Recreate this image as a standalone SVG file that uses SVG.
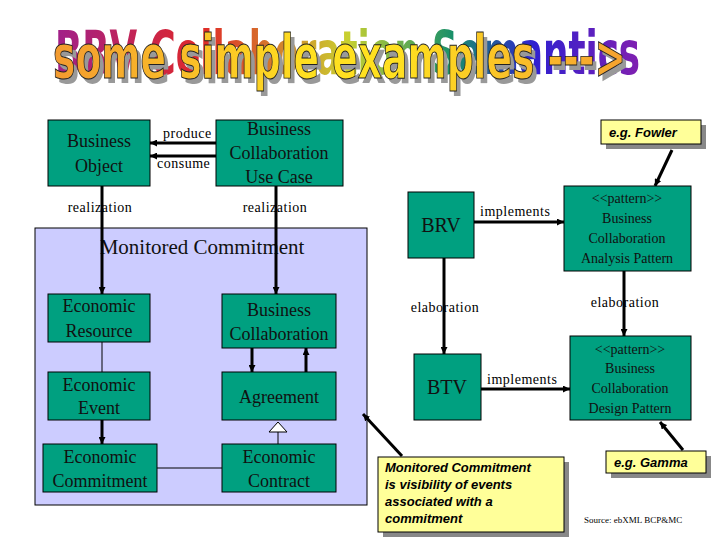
<svg xmlns="http://www.w3.org/2000/svg" width="720" height="540" viewBox="0 0 720 540">
<defs>
<linearGradient id="rain" x1="55" y1="0" x2="640" y2="0" gradientUnits="userSpaceOnUse">
<stop offset="0" stop-color="#a0208a"/>
<stop offset="0.25" stop-color="#e02828"/>
<stop offset="0.5" stop-color="#c8d030"/>
<stop offset="0.68" stop-color="#18906a"/>
<stop offset="0.82" stop-color="#3020d0"/>
<stop offset="1" stop-color="#8020b0"/>
</linearGradient>
<linearGradient id="gold" x1="53" y1="0" x2="628" y2="0" gradientUnits="userSpaceOnUse">
<stop offset="0" stop-color="#f39a30"/>
<stop offset="0.45" stop-color="#ffe020"/>
<stop offset="0.6" stop-color="#ffe020"/>
<stop offset="1" stop-color="#f5a030"/>
</linearGradient>
<marker id="ah" viewBox="0 0 10 10" refX="10" refY="5" markerWidth="7" markerHeight="7" markerUnits="userSpaceOnUse" orient="auto">
<path d="M0,0 L10,5 L0,10 z" fill="#000"/>
</marker>
</defs>
<style>
.box{fill:#00a080;stroke:#000;stroke-width:1}
.t{font-family:"Liberation Serif","Times New Roman",serif;fill:#111;text-anchor:middle}
.b18{font-size:18px}
.b14{font-size:14px}
.lab{font-family:"Liberation Serif","Times New Roman",serif;font-size:14px;fill:#000;letter-spacing:0.5px}
.note{fill:#ffff99;stroke:#000;stroke-width:1}
.sh{fill:#888}
.nt{font-family:"Liberation Sans",Arial,sans-serif;font-weight:bold;font-style:italic;font-size:13px;fill:#000}
.thick{stroke:#000;stroke-width:3;fill:none}
.thin{stroke:#000;stroke-width:1;fill:none}
.ttl{font-family:"DejaVu Sans Condensed","DejaVu Sans",sans-serif;font-weight:bold;font-size:50px}
</style>

<g id="title" transform="translate(0,78) scale(1,1.22) translate(0,-78)">
<text class="ttl" x="55" y="75" textLength="585" lengthAdjust="spacingAndGlyphs" fill="url(#rain)">BRV Collaboration Semantics</text>
<text class="ttl" x="57" y="82" textLength="573" lengthAdjust="spacingAndGlyphs" fill="#999">some simple examples ---&gt;</text>
<text class="ttl" x="53" y="78" textLength="573" lengthAdjust="spacingAndGlyphs" fill="url(#gold)" stroke="#222" stroke-width="0.8">some simple examples ---&gt;</text>
</g>

<g id="monitored-commitment">
<rect x="35" y="228" width="332" height="277" fill="#ccccff" stroke="#000" stroke-width="1"/>
<text class="t" x="202" y="254" font-family="Liberation Serif, serif" font-size="21">Monitored Commitment</text>
</g>

<g id="connectors">
<line class="thick" x1="216" y1="143" x2="150" y2="143" marker-end="url(#ah)"/>
<line class="thick" x1="216" y1="156" x2="150" y2="156" marker-end="url(#ah)"/>
<line class="thick" x1="102" y1="186" x2="102" y2="294" marker-end="url(#ah)"/>
<line class="thick" x1="276" y1="186" x2="276" y2="294" marker-end="url(#ah)"/>
<line class="thin" x1="102" y1="342" x2="102" y2="372"/>
<line class="thick" x1="102" y1="420" x2="102" y2="444" marker-end="url(#ah)"/>
<line class="thick" x1="252" y1="348" x2="252" y2="372" marker-end="url(#ah)"/>
<line class="thick" x1="306" y1="372" x2="306" y2="348" marker-end="url(#ah)"/>
<line class="thin" x1="278" y1="444" x2="278" y2="432"/>
<path d="M278,422 L287,432 L269,432 z" fill="#fff" stroke="#000" stroke-width="1"/>
<line class="thin" x1="157" y1="468" x2="222" y2="468"/>
<line class="thick" x1="474" y1="222" x2="564" y2="222" marker-end="url(#ah)"/>
<line class="thick" x1="444" y1="258" x2="444" y2="354" marker-end="url(#ah)"/>
<line class="thick" x1="624" y1="271" x2="624" y2="336" marker-end="url(#ah)"/>
<line class="thick" x1="481" y1="389" x2="570" y2="389" marker-end="url(#ah)"/>
<line class="thick" x1="672" y1="150" x2="655" y2="186" marker-end="url(#ah)"/>
<line class="thick" x1="683" y1="450" x2="660" y2="422" marker-end="url(#ah)"/>
<line class="thick" x1="402" y1="456" x2="363" y2="414" marker-end="url(#ah)"/>
</g>

<g id="labels" font-family="Liberation Serif, serif">
<text class="lab" x="163" y="138">produce</text>
<text class="lab" x="157" y="168">consume</text>
<text class="lab" x="100" y="212" text-anchor="middle">realization</text>
<text class="lab" x="275" y="212" text-anchor="middle">realization</text>
<text class="lab" x="480" y="216" font-size="15">implements</text>
<text class="lab" x="487" y="384" font-size="15">implements</text>
<text class="lab" x="445" y="312" text-anchor="middle">elaboration</text>
<text class="lab" x="625" y="307" text-anchor="middle">elaboration</text>
</g>

<g id="nodes" font-family="Liberation Serif, serif">
<g id="business-object">
<rect class="box" x="48" y="120" width="102" height="66"/>
<text class="t b18" x="99" y="147">Business</text>
<text class="t b18" x="99" y="172">Object</text>
</g>
<g id="bc-use-case">
<rect class="box" x="216" y="120" width="127" height="66"/>
<text class="t b18" x="279" y="135">Business</text>
<text class="t b18" x="279" y="159">Collaboration</text>
<text class="t b18" x="279" y="183">Use Case</text>
</g>
<g id="economic-resource">
<rect class="box" x="48" y="294" width="102" height="48"/>
<text class="t b18" x="99" y="312">Economic</text>
<text class="t b18" x="99" y="337">Resource</text>
</g>
<g id="economic-event">
<rect class="box" x="48" y="372" width="102" height="48"/>
<text class="t b18" x="99" y="391">Economic</text>
<text class="t b18" x="99" y="414">Event</text>
</g>
<g id="economic-commitment">
<rect class="box" x="43" y="444" width="114" height="48"/>
<text class="t b18" x="100" y="463">Economic</text>
<text class="t b18" x="100" y="487">Commitment</text>
</g>
<g id="business-collaboration">
<rect class="box" x="222" y="294" width="114" height="54"/>
<text class="t b18" x="279" y="316">Business</text>
<text class="t b18" x="279" y="340">Collaboration</text>
</g>
<g id="agreement">
<rect class="box" x="222" y="372" width="114" height="48"/>
<text class="t b18" x="279" y="403">Agreement</text>
</g>
<g id="economic-contract">
<rect class="box" x="222" y="444" width="114" height="48"/>
<text class="t b18" x="279" y="463">Economic</text>
<text class="t b18" x="279" y="487">Contract</text>
</g>
<g id="brv">
<rect class="box" x="408" y="192" width="66" height="66"/>
<text class="t" x="441" y="232" font-size="20">BRV</text>
</g>
<g id="btv">
<rect class="box" x="414" y="354" width="67" height="66"/>
<text class="t" x="447" y="394" font-size="20">BTV</text>
</g>
<g id="analysis-pattern">
<rect class="box" x="564" y="186" width="127" height="85"/>
<text class="t b14" x="627" y="203">&lt;&lt;pattern&gt;&gt;</text>
<text class="t b14" x="627" y="223">Business</text>
<text class="t b14" x="627" y="243">Collaboration</text>
<text class="t b14" x="627" y="263">Analysis Pattern</text>
</g>
<g id="design-pattern">
<rect class="box" x="570" y="336" width="121" height="84"/>
<text class="t b14" x="630" y="354">&lt;&lt;pattern&gt;&gt;</text>
<text class="t b14" x="630" y="373">Business</text>
<text class="t b14" x="630" y="393">Collaboration</text>
<text class="t b14" x="630" y="413">Design Pattern</text>
</g>
</g>
<g id="note-fowler">
<rect class="sh" x="606" y="125" width="100" height="24"/>
<rect class="note" x="601" y="120" width="100" height="24"/>
<text class="nt" x="609" y="137">e.g. Fowler</text>
</g>
<g id="note-gamma">
<rect class="sh" x="611" y="456" width="100" height="22"/>
<rect class="note" x="606" y="451" width="100" height="22"/>
<text class="nt" x="614" y="467">e.g. Gamma</text>
</g>
<g id="note-monitored">
<rect class="sh" x="383" y="462" width="186" height="75"/>
<rect class="note" x="378" y="457" width="186" height="75"/>
<text class="nt" x="385" y="472">Monitored Commitment</text>
<text class="nt" x="385" y="489">is visibility of events</text>
<text class="nt" x="385" y="506">associated with a</text>
<text class="nt" x="385" y="523">commitment</text>
</g>
<text x="584" y="523" font-family="Liberation Serif, serif" font-size="9" fill="#000">Source: ebXML BCP&amp;MC</text>
</svg>
